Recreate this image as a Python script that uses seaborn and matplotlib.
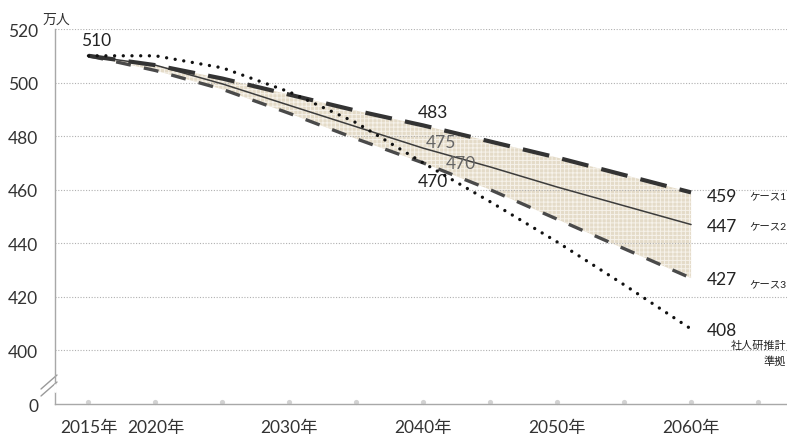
import matplotlib
matplotlib.use("Agg")
import matplotlib.pyplot as plt
import seaborn as sns
import pandas as pd
import numpy as np

# ---- data ----
years = [2015, 2020, 2025, 2030, 2035, 2040, 2045, 2050, 2055, 2060]
case1 = [510, 506.5, 501.5, 495.5, 489.5, 484, 478, 472, 465.5, 459]
case2 = [510, 506.5, 499.5, 491.5, 483.5, 475.5, 468.5, 461, 454, 447]
case3 = [510, 504.5, 497.5, 488.5, 479, 470, 460, 449, 438, 427]
ipss = [510, 510, 505.5, 496.5, 485, 470, 455.5, 440.5, 424.5, 408]
category_years = [2015, 2020, 2025, 2030, 2035, 2040, 2045, 2050, 2055, 2060, 2065]
xtick_label_years = [2015, 2020, 2030, 2040, 2050, 2060]
ytick_values = [380, 400, 420, 440, 460, 480, 500, 520]
ytick_labels = ["0", "400", "420", "440", "460", "480", "500", "520"]
end_values = ["459", "447", "427", "408"]
case_names = ["ケース1", "ケース2", "ケース3"]

sns.set_theme(style="white")
FAM = ["Lato", "Noto Sans CJK JP", "DejaVu Sans"]
plt.rcParams["font.family"] = FAM
plt.rcParams["hatch.linewidth"] = 0.7

fig = plt.figure(figsize=(7.87, 4.39), dpi=100)
ax = fig.add_axes([55 / 787, (439 - 405) / 439, (787 - 55) / 787, (405 - 30) / 439])

df = pd.DataFrame({"year": years, "case1": case1, "case2": case2,
                   "case3": case3, "ipss": ipss})

# gridlines
for v in ytick_values[1:]:
    ax.axhline(v, color="#b0b0b0", lw=0.8, ls=(0, (1, 1.5)), zorder=1.5)

# band
ax.fill_between(df["year"], df["case3"], df["case1"], facecolor="#e4dbc8",
                edgecolor="#f6f2ea", hatch="++++", linewidth=0, zorder=1)

sns.lineplot(data=df, x="year", y="case2", ax=ax, color="#3c3c3c", linewidth=1.1, zorder=3)
sns.lineplot(data=df, x="year", y="case3", ax=ax, color="#4a4a4a", linewidth=2.4,
             linestyle=(0, (4.5, 4.0)), zorder=3)
sns.lineplot(data=df, x="year", y="case1", ax=ax, color="#333333", linewidth=3.0,
             linestyle=(0, (6.5, 3.2)), zorder=3)
sns.lineplot(data=df, x="year", y="ipss", ax=ax, color="#111111", linewidth=2.4,
             linestyle=(0, (0.01, 2.6)), dash_capstyle="round", zorder=4)

# category dots on axis
sns.scatterplot(x=category_years, y=[380.9] * len(category_years), ax=ax,
                color="#d2d2d2", s=14, linewidth=0, zorder=2, clip_on=False)

ax.set_xlim(2012.5, 2015 + (787 - 88) / 67 * 5)
ax.set_ylim(380, 520)
ax.set_xlabel("")
ax.set_ylabel("")

# y axis
ax.set_yticks(ytick_values)
ax.set_yticklabels(ytick_labels, fontsize=12.5, color="#333333")
ax.tick_params(axis="y", length=0, pad=12)

# x axis: boundary ticks + labels at centers
bounds = [y - 2.5 for y in category_years]
ax.set_xticks(bounds)
ax.set_xticklabels([])
ax.tick_params(axis="x", which="major", length=5, width=0.9, color="#a0a0a0", direction="out")
ax.set_xticks(xtick_label_years, minor=True)
ax.set_xticklabels([f"{y}年" for y in xtick_label_years], minor=True, fontsize=12.5, color="#333333")
ax.tick_params(axis="x", which="minor", length=0, pad=11)

for s in ["top", "right"]:
    ax.spines[s].set_visible(False)
for s in ["left", "bottom"]:
    ax.spines[s].set_color("#a8a8a8")
    ax.spines[s].set_linewidth(1.0)

# axis break marks
for dy in (0, 7):
    ax.plot([-14 / 732, 2 / 732], [(8 + dy) / 375, (22 + dy) / 375], transform=ax.transAxes,
            color="#9a9a9a", lw=1.0, clip_on=False)
ax.plot([0, 0], [13 / 375, 19 / 375], transform=ax.transAxes, color="white", lw=2, clip_on=False, zorder=5)

# unit label
fig.text(56 / 787, 1 - 20 / 439, "万人", fontsize=10, ha="center", va="center", color="#333333",
         family=FAM)

# annotations
tc = "#222222"
ax.text(2015.6, 516, "510", fontsize=12.5, ha="center", va="center", color=tc)
ax.text(2040.7, 489.2, "483", fontsize=12.5, ha="center", va="center", color=tc)
ax.text(2041.3, 478.0, "475", fontsize=12.5, ha="center", va="center", color="#666666")
ax.text(2042.8, 470.1, "470", fontsize=12.5, ha="center", va="center", color="#666666")
ax.text(2040.7, 463.4, "470", fontsize=12.5, ha="center", va="center", color=tc)

for val, yv in zip(end_values, [457.8, 446.6, 426.5, 407.8]):
    ax.text(2062.3, yv, val, fontsize=12.5, ha="center", va="center", color=tc)
for name, yv in zip(case_names, [457.2, 446.3, 424.5]):
    ax.text(2065.7, yv, name, fontsize=7.5, ha="center", va="center", color=tc)
fig.text(786 / 787, 1 - 345 / 439, "社人研推計", fontsize=8, ha="right", va="center",
         color=tc, family=FAM)
fig.text(786 / 787, 1 - 361 / 439, "準拠", fontsize=8, ha="right", va="center",
         color=tc, family=FAM)

fig.savefig("out.png", dpi=100, facecolor="white")
